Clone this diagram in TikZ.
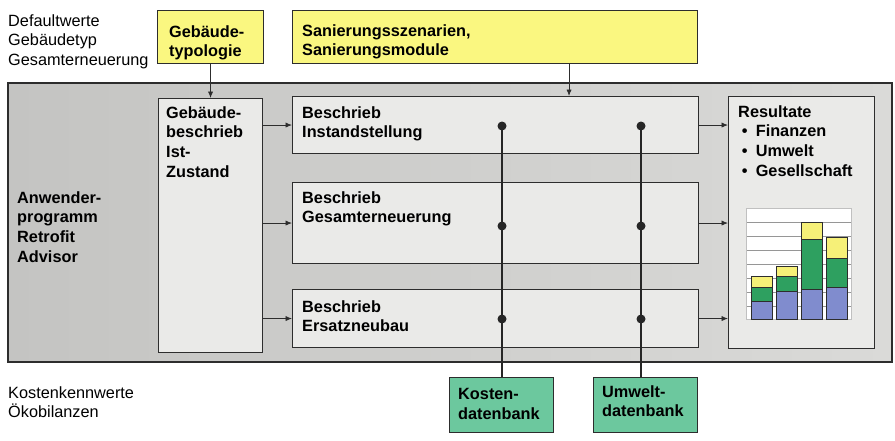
\documentclass[tikz,border=0pt]{standalone}
\usepackage{fontspec}
\setmainfont{Liberation Sans}
\usetikzlibrary{arrows.meta}

\definecolor{bgdark}{RGB}{196,196,194}
\definecolor{bglight}{RGB}{218,218,216}
\definecolor{boxfill}{RGB}{234,234,232}
\definecolor{dbyellow}{RGB}{250,247,128}
\definecolor{dbgreen}{RGB}{108,200,158}
\definecolor{bargreen}{RGB}{46,160,96}
\definecolor{barblue}{RGB}{128,140,206}
\definecolor{baryellow}{RGB}{246,240,120}
\definecolor{linegray}{RGB}{45,45,45}
\definecolor{gridgray}{RGB}{150,150,150}

\tikzset{
  box/.style={draw=linegray, line width=0.9pt, fill=boxfill, anchor=north west, inner sep=0pt},
  ybox/.style={box, fill=dbyellow},
  gbox/.style={box, fill=dbgreen},
  txt/.style={anchor=north west, align=left, inner sep=0pt, font=\fontsize{13.9}{17}\selectfont\bfseries},
  lighttxt/.style={txt, font=\fontsize{13.9}{17}\selectfont},
  arr/.style={-{Latex[length=5.5pt,width=4.5pt]}, line width=0.7pt, draw=linegray},
  dot/.style={circle, fill=black!85, inner sep=0pt, minimum size=0.27cm},
  bus/.style={line width=1.4pt, draw=black!85},
}
\newcommand{\resitem}[1]{\hbox to 15pt{\hskip3pt\textbullet\hfil}#1}

\begin{document}
\begin{tikzpicture}[x=0.03cm,y=-0.03cm]
\useasboundingbox (0,0) rectangle (895,440);

%% outer frame (Anwenderprogramm)
\draw[line width=0.9pt, draw=linegray, left color=bgdark, right color=bglight] (8,83) rectangle (892,362);

% inputs on top
\node[lighttxt] (defw) at (8,14) {Defaultwerte\\Gebäudetyp\\Gesamterneuerung};
\node[ybox, minimum width=3.18cm, minimum height=1.59cm] (typo) at (157,10) {};
\node[txt] (typoT) at ([shift={(12,15)}]typo.north west) {Gebäude-\\typologie};
\node[ybox, minimum width=12.15cm, minimum height=1.59cm] (san) at (292,10) {};
\node[txt] (sanT) at ([shift={(10,14)}]san.north west) {Sanierungsszenarien,\\Sanierungsmodule};

% program
\node[txt] (anw) at (17,191) {Anwender-\\programm\\Retrofit\\Advisor};
\node[box, minimum width=3.12cm, minimum height=7.62cm] (gb) at (158,98) {};
\node[txt] (gbT) at ([shift={(8,8)}]gb.north west) {Gebäude-\\beschrieb\\Ist-\\Zustand};
\node[box, minimum width=12.18cm, minimum height=1.71cm] (inst) at (292,96) {};
\node[txt] (instT) at ([shift={(10,10)}]inst.north west) {Beschrieb\\Instandstellung};
\node[box, minimum width=12.18cm, minimum height=2.43cm] (ges) at (292,182) {};
\node[txt] (gesT) at ([shift={(10,9)}]ges.north west) {Beschrieb\\Gesamterneuerung};
\node[box, minimum width=12.18cm, minimum height=1.74cm] (ers) at (292,289) {};
\node[txt] (ersT) at ([shift={(10,11)}]ers.north west) {Beschrieb\\Ersatzneubau};
\node[box, minimum width=4.38cm, minimum height=7.56cm] (res) at (728,96) {};
\node[txt] (resT) at ([shift={(10,9)}]res.north west)
  {Resultate\\\resitem{Finanzen}\\\resitem{Umwelt}\\\resitem{Gesellschaft}};

% chart
\fill[white] (746,208) rectangle (851,319);
\foreach \gy in {222,236,250,264,278,292,306}
  \draw[gridgray, line width=0.6pt] (746,\gy) -- (851,\gy);
\draw[gridgray!60, line width=0.6pt] (746,208) rectangle (851,319);
\foreach \bx/\bb/\bg/\by in {751/301/287/276, 776/291/276/266, 801/289/239/222, 826/287/258/237}{
  \filldraw[barblue, draw=linegray, line width=0.5pt] (\bx,319) rectangle (\bx+21,\bb);
  \filldraw[bargreen, draw=linegray, line width=0.5pt] (\bx,\bb) rectangle (\bx+21,\bg);
  \filldraw[baryellow, draw=linegray, line width=0.5pt] (\bx,\bg) rectangle (\bx+21,\by);
}

% databases below
\node[lighttxt] (kkw) at (8,386) {Kostenkennwerte\\Ökobilanzen};
\node[gbox, minimum width=3.12cm, minimum height=1.65cm] (kosten) at (449,377) {};
\node[txt] (kostenT) at ([shift={(9,11)}]kosten.north west) {Kosten-\\datenbank};
\node[gbox, minimum width=3.12cm, minimum height=1.65cm] (umwelt) at (593,377) {};
\node[txt] (umweltT) at ([shift={(9,8)}]umwelt.north west) {Umwelt-\\datenbank};

% arrows
\draw[arr] (typo.south) -- (typo.south |- gb.north);
\draw[arr] ([xshift=2.22cm]san.south) -- ([xshift=2.22cm]san.south |- inst.north);
\foreach \b in {inst,ges,ers}{
  \draw[arr] (gb.east |- \b.west) -- (\b.west);
  \draw[arr] (\b.east) -- (res.west |- \b.east);
}

% data lines
\node[dot] (k1) at (502,126) {};
\node[dot] (k2) at (502,226) {};
\node[dot] (k3) at (502,319) {};
\node[dot] (u1) at (641,126) {};
\node[dot] (u2) at (641,226) {};
\node[dot] (u3) at (641,319) {};
\draw[bus] (k1.center) -- (k1.center |- kosten.north);
\draw[bus] (u1.center) -- (u1.center |- umwelt.north);

\end{tikzpicture}
\end{document}
